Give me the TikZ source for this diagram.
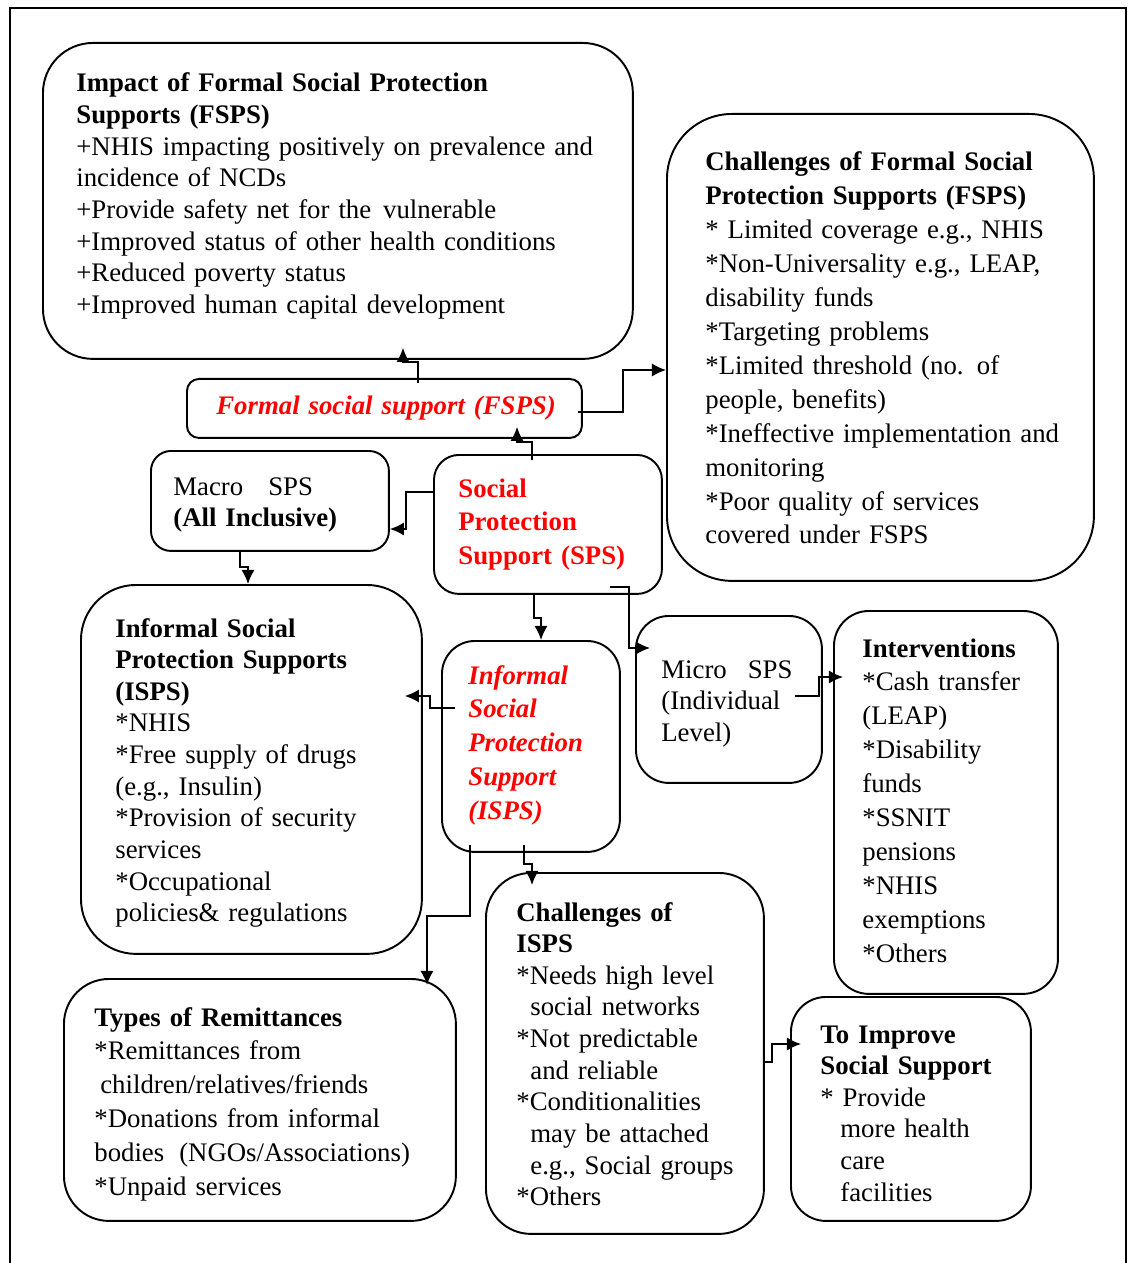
\documentclass[tikz,border=0pt]{standalone}
\usepackage{fontspec}
\setmainfont{Liberation Serif}[WordSpace=0.9]
\usepackage{tikz}
\usetikzlibrary{arrows.meta, calc}

\begin{document}
\begin{tikzpicture}[x=0.02cm, y=-0.02cm,
    box/.style={draw, line width=1.1pt, fill=white, anchor=north west, inner sep=0pt},
    txt/.style={anchor=base west, inner sep=0pt, align=left, text width=12cm,
        font=\fontsize{15.25}{18}\selectfont},
    txtw/.style={txt, font=\fontsize{15.25}{19.3}\selectfont},
    sptxt/.style={txtw, text=red, font=\fontsize{15.25}{19.3}\selectfont\bfseries},
    sptxti/.style={sptxt, font=\fontsize{15.25}{19.3}\selectfont\bfseries\itshape},
    conn/.style={line width=1pt, -{Latex[length=8pt, width=7.5pt]}}]
   \useasboundingbox (0,0) rectangle (1130,1263);
   % outer frame
   \draw[line width=0.6pt] (10,1263) |- (1126,8) -- (1126,1263);

   % top row
   \node[box, minimum width=11.8cm, minimum height=6.32cm, rounded corners=1cm] (impact) at (42,42) {};
   \node[box, minimum width=8.54cm, minimum height=9.34cm, rounded corners=1.3cm] (chfsps) at (666,113) {};

   % middle
   \node[box, minimum width=7.9cm, minimum height=1.18cm, rounded corners=0.24cm] (fsps) at (186,378) {};
   \node[box, minimum width=4.76cm, minimum height=2cm, rounded corners=0.4cm] (macro) at (150,450) {};
   \node[box, minimum width=4.56cm, minimum height=2.78cm, rounded corners=0.5cm] (sps) at (433,454) {};
   \node[box, minimum width=6.82cm, minimum height=7.38cm, rounded corners=1.1cm] (isps) at (80,584) {};
   \node[box, minimum width=3.56cm, minimum height=4.22cm, rounded corners=0.66cm] (ispsred) at (441,640) {};
   \node[box, minimum width=3.72cm, minimum height=3.34cm, rounded corners=0.66cm] (micro) at (635,615) {};
   \node[box, minimum width=4.48cm, minimum height=7.66cm, rounded corners=0.7cm] (interv) at (833,610) {};

   % bottom row
   \node[box, minimum width=7.84cm, minimum height=4.84cm, rounded corners=0.9cm] (remit) at (63,978) {};
   \node[box, minimum width=5.56cm, minimum height=7.22cm, rounded corners=0.9cm] (chisps) at (485,872) {};
   \node[box, minimum width=4.8cm, minimum height=4.48cm, rounded corners=0.7cm] (improve) at (790,996) {};

   % texts
   \node[txt] (impact-t) at (76,92) {\textbf{Impact of Formal Social Protection}\\ \textbf{Supports (FSPS)}\\ +NHIS impacting positively on prevalence and\\ incidence of NCDs\\ +Provide safety net for the\hspace{0.06cm} vulnerable\\ +Improved status of other health conditions\\ +Reduced poverty status\\ +Improved human capital development};
   \node[txtw] (chfsps-t) at (705,171) {\textbf{Challenges of Formal Social}\\ \textbf{Protection Supports (FSPS)}\\{}* Limited coverage e.g., NHIS\\{}*Non-Universality e.g., LEAP,\\ disability funds\\{}*Targeting problems\\{}*Limited threshold (no. of\\ people, benefits)\\{}*Ineffective implementation and\\ monitoring\\{}*Poor quality of services\\ covered under FSPS};
   \node[sptxti] (fsps-t) at (216,415) {Formal social support (FSPS)};
   \node[txt] (macro-t) at (173,495) {Macro\hspace{0.5cm}SPS\\ \textbf{(All Inclusive)}};
   \node[sptxt] (sps-t) at (458,497) {Social\\ Protection\\ Support (SPS)};
   \node[txt] (isps-t) at (115,637) {\textbf{Informal Social}\\ \textbf{Protection Supports}\\ \textbf{(ISPS)}\\{}*NHIS\\{}*Free supply of drugs\\ (e.g., Insulin)\\{}*Provision of security\\ services\\{}*Occupational\\ policies\& regulations};
   \node[sptxti] (ispsred-t) at (468,684) {Informal\\ Social\\ Protection\\ Support\\ (ISPS)};
   \node[txt] (micro-t) at (661,678) {Micro\hspace{0.42cm}SPS\\ (Individual\\ Level)};
   \node[txtw] (interv-t) at (862,657) {\textbf{Interventions}\\{}*Cash transfer\\ (LEAP)\\{}*Disability\\ funds\\{}*SSNIT\\ pensions\\{}*NHIS\\ exemptions\\{}*Others};
   \node[txtw] (remit-t) at (94,1026) {\textbf{Types of Remittances}\\{}*Remittances from\\ \hspace*{0.12cm}children/relatives/friends\\{}*Donations from informal\\ bodies\hspace{0.3cm}(NGOs/Associations)\\{}*Unpaid services};
   \node[txt] (chisps-t) at (516,921) {\textbf{Challenges of}\\ \textbf{ISPS}\\{}*Needs high level\\ \hspace*{0.28cm}social networks\\{}*Not predictable\\ \hspace*{0.28cm}and reliable\\{}*Conditionalities\\ \hspace*{0.28cm}may be attached\\ \hspace*{0.28cm}e.g., Social groups\\{}*Others};
   \node[txt] (improve-t) at (820,1043) {\textbf{To Improve}\\ \textbf{Social Support}\\{}* Provide\\ \hspace*{0.4cm}more health\\ \hspace*{0.4cm}care\\ \hspace*{0.4cm}facilities};

   % connectors from the formal side
   \draw[conn, shorten <=-0.1cm, shorten >=-0.24cm] (fsps.north -| 418,0) |- (403,362) -- (impact.south -| 403,0);
   \draw[conn, shorten <=-0.1cm] (fsps.east |- 0,412) -| (623,370) -- (chfsps.west |- 0,370);
   \draw[conn, shorten <=-0.12cm, shorten >=-0.24cm] (sps.north -| 532,0) |- (517,442) -- (fsps.south -| 517,0);
   \draw[conn] (sps.west |- 0,492) -| (406,529) -- (macro.east |- 0,529);
   \draw[conn] (macro.south -| 240,0) |- (248,567) -- (isps.north -| 248,0);
   \draw[conn] (sps.south -| 534,0) |- (541,618) -- (ispsred.north -| 541,0);
   \draw[conn, shorten >=-0.3cm] ($(sps.south -| 610,0)+(0,-8)$) -| (629,648) -- (micro.west |- 0,648);

   % connectors from the informal side
   \draw[conn, shorten <=-0.28cm, shorten >=-0.36cm] (ispsred.west |- 0,708) -| (430,696) -- (isps.east |- 0,696);
   \draw[conn, shorten <=-0.16cm, shorten >=-0.14cm] (ispsred.south -| 470,0) |- (427,916) -- (remit.north -| 427,0);
   \draw[conn, shorten <=-0.16cm, shorten >=-0.26cm] (ispsred.south -| 524,0) |- (532,864) -- (chisps.north -| 532,0);
   \draw[conn, shorten >=-0.2cm] ($(micro.east |- 0,696)+(-28,0)$) -| (819,677) -- (interv.west |- 0,677);
   \draw[conn, shorten >=-0.22cm] (chisps.east |- 0,1062) -| (772,1044) -- (improve.west |- 0,1044);
\end{tikzpicture}
\end{document}
